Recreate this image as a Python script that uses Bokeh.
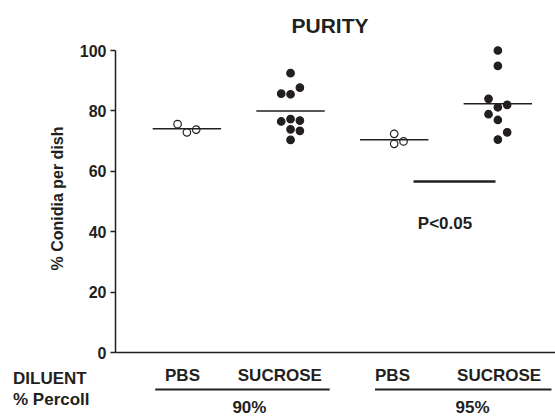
import numpy as np
from bokeh.plotting import figure
from bokeh.layouts import column
from bokeh.models import Range1d, LinearAxis, FixedTicker, Title
from bokeh.embed import file_html
from bokeh.resources import INLINE
from bokeh.core.properties import value

# ---- data ----
diluents = ["PBS", "SUCROSE", "PBS", "SUCROSE"]
percoll = ["90%", "95%"]
row_titles = ["DILUENT", "% Percoll"]
pbs_90 = [75.6, 72.9, 73.8]
pbs_90_col = [-1, 0, 1]
suc_90 = [92.5, 87.7, 85.7, 85.5, 77.3, 76.5, 76.8, 73.9, 73.4, 70.4]
suc_90_col = [0, 1, -1, 0, 0, -1, 1, 0, 1, 0]
pbs_95 = [72.4, 69.9, 69.1]
pbs_95_col = [0, 1, 0]
suc_95 = [100.0, 94.9, 84.0, 82.0, 81.2, 78.9, 77.0, 72.9, 70.5]
suc_95_col = [0, 0, -1, 1, 0, -1, 0, 1, 0]
y_ticks = [0, 20, 40, 60, 80, 100]
sig_level = 56.6
sig_text = "P<0.05"

groups = [pbs_90, suc_90, pbs_95, suc_95]
group_cols = [pbs_90_col, suc_90_col, pbs_95_col, suc_95_col]
open_marker = [True, False, True, False]

# ---- layout / style ----
FONT = value("Liberation Sans")
INK = "#231f20"
W, H = 555, 418
LEFT = 115            # y-axis position (px)
TOP = 44              # frame top (px)
AXIS_Y = 352          # x-axis position (px)
Y100 = 50             # px of the value 100
MAIN_H = 362
CAT0_PX, CAT_PX = 186.4, 103.65   # px of first category, px per category
PX_PER_UNIT = (AXIS_Y - Y100) / 100.0
STEP = 0.09           # swarm column spacing (category units)
HALF = 0.33           # half length of mean bars


def to_cat(px):
    return (px - CAT0_PX) / CAT_PX


def to_val(py):
    return (AXIS_Y - py) / PX_PER_UNIT


p = figure(width=W, height=MAIN_H, output_backend="svg", toolbar_location=None,
           x_range=Range1d(to_cat(LEFT), to_cat(W)),
           y_range=Range1d(0, to_val(TOP)),
           x_axis_location=None, y_axis_location=None,
           min_border_left=LEFT, min_border_right=0, min_border_top=TOP,
           min_border_bottom=MAIN_H - AXIS_Y)
p.frame_align = False
p.outline_line_color = None
p.grid.visible = False

p.title = Title(text="PURITY", align="left", offset=176, standoff=16,
                text_font="Liberation Sans", text_font_style="bold",
                text_font_size="21px", text_color=INK)

yaxis = LinearAxis(bounds=(0, 100), ticker=FixedTicker(ticks=y_ticks),
                   axis_label="% Conidia per dish")
yaxis.axis_line_color = INK
yaxis.axis_line_width = 1.5
yaxis.major_tick_line_color = INK
yaxis.major_tick_line_width = 1.5
yaxis.major_tick_out = 5
yaxis.major_tick_in = 0
yaxis.minor_tick_line_color = None
yaxis.major_label_standoff = 4
yaxis.major_label_text_font = "Liberation Sans"
yaxis.major_label_text_font_style = "bold"
yaxis.major_label_text_font_size = "16px"
yaxis.major_label_text_color = INK
yaxis.axis_label_standoff = 11
yaxis.axis_label_text_font = "Liberation Sans"
yaxis.axis_label_text_font_style = "bold"
yaxis.axis_label_text_font_size = "16px"
yaxis.axis_label_text_color = INK
p.add_layout(yaxis, "left")

xaxis = LinearAxis(ticker=FixedTicker(ticks=[]))
xaxis.axis_line_color = INK
xaxis.axis_line_width = 1.5
xaxis.major_tick_out = 0
xaxis.major_tick_in = 0
xaxis.minor_tick_line_color = None
xaxis.major_label_standoff = 0
p.add_layout(xaxis, "below")

for i, (vals, cols, is_open) in enumerate(zip(groups, group_cols, open_marker)):
    xs = [i + c * STEP for c in cols]
    p.scatter(xs, vals, size=7.5, marker="circle",
              fill_color="white" if is_open else INK,
              line_color=INK, line_width=1.2)
    m = float(np.mean(vals))
    p.segment(x0=[i - HALF], x1=[i + HALF], y0=[m], y1=[m],
              line_color=INK, line_width=1.5)

# significance bar and text
p.segment(x0=[to_cat(413)], x1=[to_cat(495)], y0=[sig_level], y1=[sig_level],
          line_color=INK, line_width=2.5)
p.text(x=[to_cat(444.5)], y=[to_val(223)], text=[sig_text], text_font=FONT,
       text_font_style="bold", text_font_size="17px", text_color=INK,
       text_align="center", text_baseline="middle")

# ---- strip of labels under the axis ----
q = figure(width=W, height=H - MAIN_H, output_backend="svg",
           toolbar_location=None,
           x_range=Range1d(to_cat(0), to_cat(W)),
           y_range=Range1d(to_val(H), to_val(MAIN_H)),
           x_axis_location=None, y_axis_location=None,
           min_border=0)
q.frame_align = False
q.outline_line_color = None
q.grid.visible = False

label_px = [182, 279.3, 392, 498.6]
q.text(x=[to_cat(v) for v in label_px], y=[to_val(375)] * 4, text=diluents,
       text_font=FONT, text_font_style="bold", text_font_size="17px",
       text_color=INK, text_align="center", text_baseline="middle")
q.segment(x0=[to_cat(154.7), to_cat(374.5)], x1=[to_cat(329.2), to_cat(551)],
          y0=[to_val(389)] * 2, y1=[to_val(389)] * 2,
          line_color=INK, line_width=2)
q.text(x=[to_cat(248.9), to_cat(472)], y=[to_val(407)] * 2, text=percoll,
       text_font=FONT, text_font_style="bold", text_font_size="17px",
       text_color=INK, text_align="center", text_baseline="middle")
q.text(x=[to_cat(12.5)] * 2, y=[to_val(378), to_val(399)], text=row_titles,
       text_font=FONT, text_font_style="bold", text_font_size="17px",
       text_color=INK, text_align="left", text_baseline="middle")

layout = column(p, q, spacing=0)
open("out.html", "w").write(file_html(layout, INLINE))
